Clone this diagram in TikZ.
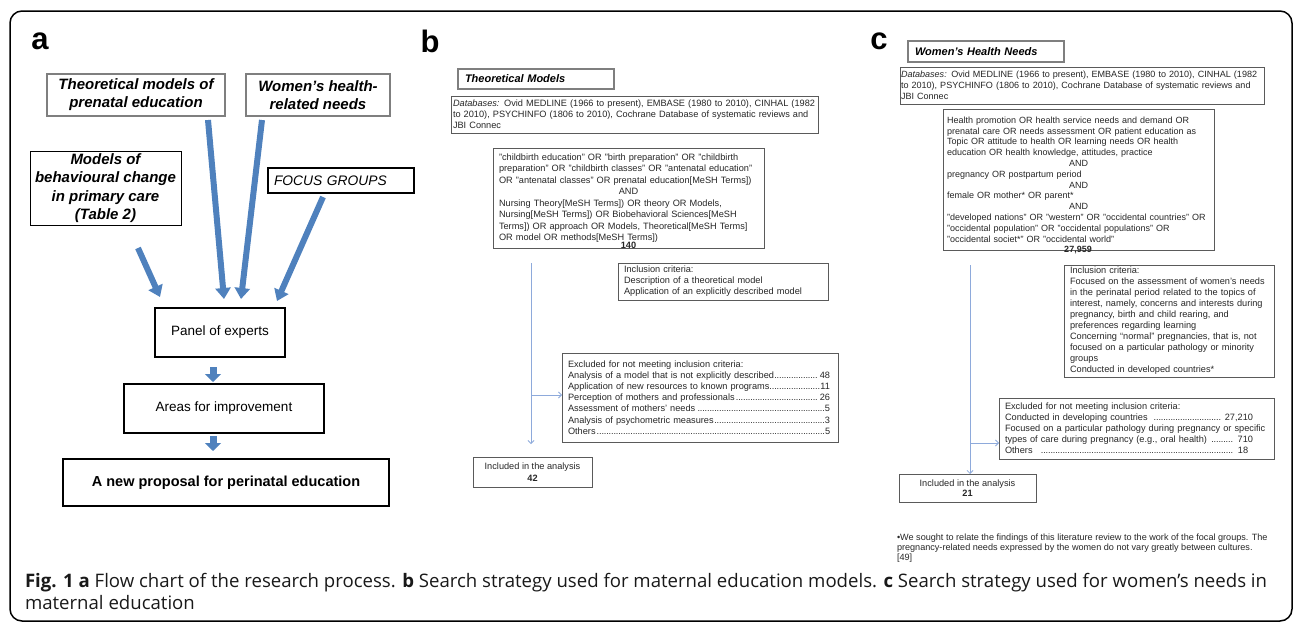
\documentclass[tikz,border=0pt]{standalone}
\usepackage{fontspec}
\setmainfont{Liberation Sans}
\newfontfamily\capfont{Open Sans}
\usetikzlibrary{arrows.meta,calc}
\definecolor{arrowblue}{HTML}{4F81BD}
\definecolor{arrowedge}{HTML}{41719C}
\definecolor{thinblue}{HTML}{8EAADB}
\definecolor{agray}{HTML}{7F7F7F}
\definecolor{bgray}{HTML}{5A5A5A}
\definecolor{txt}{HTML}{262626}
\newcommand\fsz[2]{\fontsize{#1}{#2}\selectfont}
\newcommand\dfill{\leaders\hbox to 2.4pt{\hss.\hss}\hfill}
\newcommand\drow[3]{\leavevmode\hbox to #1{#2\dfill#3}}
\begin{document}
\begin{tikzpicture}[x=1pt,y=-1pt,
  every node/.style={inner sep=0pt, outer sep=0pt},
  abox/.style={draw=agray, line width=1.3pt, align=center, font=\fsz{15}{18}\bfseries\itshape},
  kbox/.style={draw=black, line width=1.8pt, align=center},
  sbox/.style={draw=bgray, line width=0.8pt, text=txt, font=\fsz{9.2}{11}, align=left},
  big/.style={draw=arrowblue, line width=6pt, -{Triangle[length=11pt,width=15pt]}},
  small/.style={draw=arrowblue, line width=7pt, -{Triangle[length=8pt,width=16pt]}},
  thinarr/.style={draw=thinblue, line width=0.8pt, -{Straight Barb[length=3pt,width=6pt]}},
  lab/.style={font=\fsz{31}{31}\bfseries}
]
\useasboundingbox (0,0) rectangle (1296,624);
\draw[line width=1.5pt, rounded corners=12pt] (10,11) rectangle (1292,621);

% ---------- panel a ----------
\node[lab] (la) at (40,41) {a};
\node[abox, minimum width=178pt, minimum height=42pt] (tm) at (136,95) {Theoretical models of\\prenatal education};
\node[abox, minimum width=144pt, minimum height=42pt] (wh) at (318,95) {Women's health-\\related needs};
\node[draw=black, line width=1pt, align=center, font=\fsz{15}{18.5}\bfseries\itshape, minimum width=151pt, minimum height=74pt] (mb) at (105.5,188) {Models of\\behavioural change\\in primary care\\(Table 2)};
\node[draw=black, line width=1.5pt, align=left, font=\fsz{13.8}{16}\itshape, minimum width=146pt, minimum height=25pt, text width=134pt] (fg) at (341,180.5) {FOCUS GROUPS};
\node[kbox, font=\fsz{13.5}{16}, minimum width=130pt, minimum height=49pt] (pe) at (220,332.5) {Panel of experts};
\node[kbox, font=\fsz{13.5}{16}, minimum width=200pt, minimum height=49pt] (ai) at (224,408.5) {Areas for improvement};
\node[kbox, font=\fsz{14.5}{16}\bfseries, minimum width=326pt, minimum height=47pt] (np) at (226,482.5) {A new proposal for perinatal education};

\coordinate (a1s) at (138,248); \coordinate (a1e) at (160,297);
\coordinate (a2s) at (208,120); \coordinate (a2e) at (224,299);
\coordinate (a3s) at (262,120); \coordinate (a3e) at (241,299);
\coordinate (a4s) at (323,197); \coordinate (a4e) at (277,301);
\draw[big] (a1s) -- (a1e);
\draw[big] (a2s) -- (a2e);
\draw[big] (a3s) -- (a3e);
\draw[big] (a4s) -- (a4e);
\coordinate (s1s) at (213,367); \coordinate (s1e) at (213,382);
\coordinate (s2s) at (213,436); \coordinate (s2e) at (213,451);
\draw[small] (s1s) -- (s1e);
\draw[small] (s2s) -- (s2e);

% ---------- panel b ----------
\node[lab] (lb) at (430,41) {b};
\node[draw=agray, line width=1.3pt, font=\fsz{11}{13}\bfseries\itshape, align=left, minimum width=156pt, minimum height=20pt, text width=142pt] (tmb) at (536,79) {Theoretical Models};
\node[sbox, minimum width=367pt, minimum height=37pt, text width=363pt] (dbb) at (634.5,114.5) {\textit{Databases:} Ovid MEDLINE (1966 to present), EMBASE (1980 to 2010), CINHAL (1982\\to 2010), PSYCHINFO (1806 to 2010), Cochrane Database of systematic reviews and\\JBI Connec};
\node[sbox, font=\fsz{9.2}{11.5}, minimum width=271pt, minimum height=100pt, text width=259pt] (qb) at (628.5,198) {"childbirth education" OR "birth preparation" OR "childbirth\\preparation" OR "childbirth classes" OR "antenatal education"\\OR "antenatal classes" OR prenatal education[MeSH Terms])\\\makebox[\linewidth]{AND}\\Nursing Theory[MeSH Terms]) OR theory OR Models,\\Nursing[MeSH Terms]) OR Biobehavioral Sciences[MeSH\\Terms]) OR approach OR Models, Theoretical[MeSH Terms]\\OR model OR methods[MeSH Terms])};
\node[font=\fsz{9.2}{11}\bfseries, text=txt] (n140) at (628.5,245.5) {140};
\node[sbox, minimum width=210pt, minimum height=37pt, text width=198pt] (incb) at (723,281.5) {Inclusion criteria:\\Description of a theoretical model\\Application of an explicitly described model};
\node[sbox, font=\fsz{9.2}{11.2}, minimum width=276pt, minimum height=89pt, text width=264pt] (exb) at (700,397.5) {Excluded for not meeting inclusion criteria:\\
\drow{262pt}{Analysis of a model that is not explicitly described}{48}\\
\drow{262pt}{Application of new resources to known programs}{11}\\
\drow{262pt}{Perception of mothers and professionals}{26}\\
\drow{262pt}{Assessment of mothers’ needs}{5}\\
\drow{262pt}{Analysis of psychometric measures}{3}\\
\drow{262pt}{Others}{5}};
\node[sbox, align=center, font=\fsz{9.2}{12}, minimum width=119pt, minimum height=30pt] (inb) at (532.5,472) {Included in the analysis\\\textbf{42}};
\coordinate (bv1) at (531,263); \coordinate (bv2) at (531,444);
\coordinate (bh) at (531,395);
\draw[thinarr] (bv1) -- (bv2);
\draw[thinarr] (bh) -- (bh -| exb.west);

% ---------- panel c ----------
\node[lab] (lc) at (879,41) {c};
\node[draw=agray, line width=1.3pt, font=\fsz{11}{13}\bfseries\itshape, align=left, minimum width=156pt, minimum height=21pt, text width=142pt] (whn) at (986,51.5) {Women's Health Needs};
\node[sbox, font=\fsz{9.05}{11}, minimum width=364pt, minimum height=37pt, text width=362pt] (dbc) at (1082,85.5) {\textit{Databases:} Ovid MEDLINE (1966 to present), EMBASE (1980 to 2010), CINHAL (1982\\to 2010), PSYCHINFO (1806 to 2010), Cochrane Database of systematic reviews and\\JBI Connec};
\node[sbox, font=\fsz{9}{10.8}, minimum width=271pt, minimum height=141pt, text width=263pt] (qc) at (1078.5,179.5) {Health promotion OR health service needs and demand OR\\prenatal care OR needs assessment OR patient education as\\Topic OR attitude to health OR learning needs OR health\\education OR health knowledge, attitudes, practice\\\makebox[\linewidth]{AND}\\pregnancy OR postpartum period\\\makebox[\linewidth]{AND}\\female OR mother* OR parent*\\\makebox[\linewidth]{AND}\\"developed nations" OR "western" OR "occidental countries" OR\\"occidental population" OR "occidental populations" OR\\"occidental societ*" OR "occidental world"};
\node[font=\fsz{9}{11}\bfseries, text=txt] (n27959) at (1078,250) {27,959};
\node[sbox, minimum width=210pt, minimum height=112pt, text width=198pt] (incc) at (1169,321) {Inclusion criteria:\\Focused on the assessment of women’s needs\\in the perinatal period related to the topics of\\interest, namely, concerns and interests during\\pregnancy, birth and child rearing, and\\preferences regarding learning\\Concerning “normal” pregnancies, that is, not\\focused on a particular pathology or minority\\groups\\Conducted in developed countries*};
\node[sbox, minimum width=275pt, minimum height=61pt, text width=263pt] (exc) at (1136.5,428.5) {Excluded for not meeting inclusion criteria:\\
\drow{248pt}{Conducted in developing countries\hspace{6pt}}{\ 27,210}\\
Focused on a particular pathology during pregnancy or specific\\
\drow{248pt}{types of care during pregnancy (e.g., oral health) }{\ 710}\\
\drow{243pt}{Others\hspace{8pt}}{\ 18}};
\node[sbox, align=center, font=\fsz{9.2}{10.5}, minimum width=137pt, minimum height=28pt] (inc) at (967.5,488) {Included in the analysis\\\textbf{21}};
\coordinate (cv1) at (970,265); \coordinate (ch) at (970,443);
\draw[thinarr] (cv1) -- (cv1 |- inc.north);
\draw[thinarr] (ch) -- (ch -| exc.west);
\node[anchor=north west, align=left, text=txt, font=\fsz{9.1}{10}] (fn) at (897,533.5) {•We sought to relate the findings of this literature review to the work of the focal groups. The\\pregnancy-related needs expressed by the women do not vary greatly between cultures.\\{[49]}};

% ---------- caption ----------
\node[anchor=north west, align=left, font=\capfont\fsz{18.6}{22.5}, text=black!90] (cap) at (25,573) {\textbf{Fig. 1 a} Flow chart of the research process. \textbf{b} Search strategy used for maternal education models. \textbf{c} Search strategy used for women’s needs in\\maternal education};
\end{tikzpicture}
\end{document}
